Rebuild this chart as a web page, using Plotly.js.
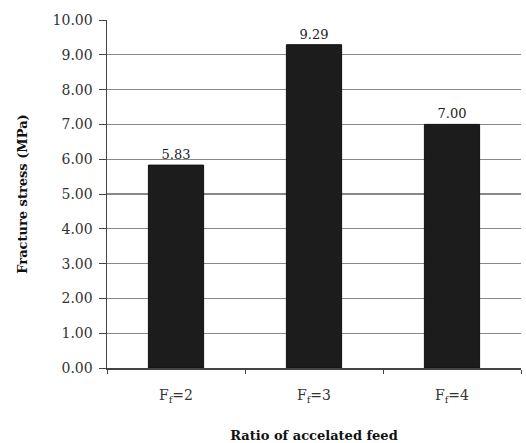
<!DOCTYPE html>
<html><head><meta charset="utf-8">
<script src="https://cdn.plot.ly/plotly-3.0.1.min.js"></script>
<style>html,body{margin:0;padding:0;background:#fff}#c{width:526px;height:443px}</style>
</head><body><div id="c"></div>
<script>
var categories = ["F<sub>f</sub>=2", "F<sub>f</sub>=3", "F<sub>f</sub>=4"];
var values = [5.83, 9.29, 7.00];
var yTicks = [0,1,2,3,4,5,6,7,8,9,10];

var trace = {
  type: "bar",
  x: categories,
  y: values,
  width: 0.4,
  marker: {color: "#1c1c1c", line: {color: "#111", width: 1}},
  text: values.map(function(v){return v.toFixed(2);}),
  textposition: "outside",
  cliponaxis: false,
  textfont: {family: "DejaVu Serif", size: 13, color: "#222"}
};
var layout = {
  width: 526, height: 443,
  margin: {l: 107, r: 5, t: 20, b: 75},
  paper_bgcolor: "#fff", plot_bgcolor: "#fff",
  showlegend: false,
  xaxis: {
    type: "category",
    showline: true, linecolor: "#444", linewidth: 1.5,
    ticks: "outside", tickson: "boundaries", ticklen: 4, tickcolor: "#444",
    showgrid: false,
    ticklabelstandoff: 14,
    tickfont: {family: "DejaVu Serif", size: 14, color: "#333"},
    title: {text: "<b>Ratio of accelated feed</b>", font: {family: "DejaVu Serif", size: 13, color: "#111"}, standoff: 26}
  },
  yaxis: {
    range: [0, 10],
    tickvals: yTicks,
    ticktext: yTicks.map(function(v){return v.toFixed(2);}),
    showline: true, linecolor: "#444", linewidth: 1.5,
    ticks: "outside", ticklen: 7, tickcolor: "#444",
    showgrid: true, gridcolor: "#888", gridwidth: 1.2,
    zeroline: false,
    ticklabelstandoff: 3,
    tickfont: {family: "DejaVu Serif", size: 14, color: "#333"},
    title: {text: "<b>Fracture stress (MPa)</b>", font: {family: "DejaVu Serif", size: 13, color: "#111"}, standoff: 22}
  }
};
Plotly.newPlot("c", [trace], layout, {displayModeBar: false, staticPlot: true});
</script></body></html>
